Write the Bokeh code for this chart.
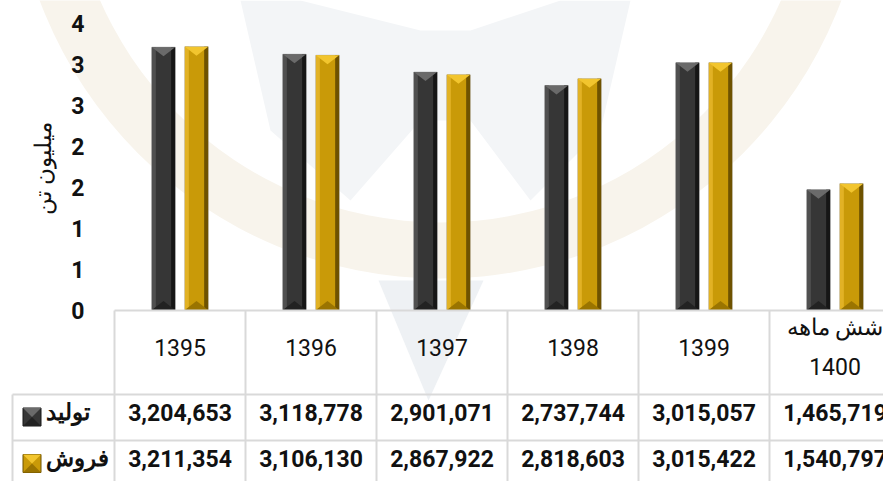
import numpy as np
from bokeh.plotting import figure
from bokeh.models import Range1d, FixedTicker
from bokeh.embed import file_html
from bokeh.resources import INLINE
from bokeh.core.properties import value

# ---------------- data ----------------
categories = ["1395", "1396", "1397", "1398", "1399", "شش ماهه\n1400"]
production = [3204653, 3118778, 2901071, 2737744, 3015057, 1465719]
sales = [3211354, 3106130, 2867922, 2818603, 3015422, 1540797]
series_names = ["تولید", "فروش"]
ytick_values = [0, 0.5, 1, 1.5, 2, 2.5, 3, 3.5]
ytick_labels = ["0", "1", "1", "2", "2", "3", "3", "4"]
y_axis_title = "میلیون تن"

# ---------------- layout constants (screen px) ----------------
W, H = 883, 481
COL = 131.0          # px per category column
X0 = 114.0           # screen x of first category column
Y0 = 309.5           # screen y of value 0
PXY = 82.0           # px per million tonnes
FONT = "Roboto"
n = len(categories)


def X(sx):
    return (sx - X0) / COL


def Y(sy):
    return (Y0 - sy) / PXY


p = figure(width=W, height=H, x_range=Range1d(X(0), X(W)), y_range=Range1d(Y(H), Y(0)),
           output_backend="svg", toolbar_location=None, x_axis_location=None,
           min_border_left=0, min_border_right=0, min_border_top=0, min_border_bottom=0)
p.grid.visible = False
p.outline_line_color = None
p.background_fill_color = "white"

# ---------------- faint watermark ----------------
p.annulus(x=[X(440)], y=[Y(-150)], inner_radius=372, outer_radius=428,
          inner_radius_units="screen", outer_radius_units="screen",
          fill_color="#f8f4ec", line_color=None)
p.patch(x=[X(s) for s in [240, 300, 420, 470, 560, 630, 600, 530, 470, 420, 350, 270]],
        y=[Y(s) for s in [0, 0, 30, 30, 0, 0, 130, 200, 120, 120, 200, 130]],
        fill_color="#f3f5f7", line_color=None)
p.patch(x=[X(378), X(483), X(428)], y=[Y(280), Y(280), Y(400)],
        fill_color="#eef1f4", line_color=None)

# ---------------- bars ----------------
series = [np.array(production) / 1e6, np.array(sales) / 1e6]
offsets = [-0.126, 0.126]
bar_w = 0.178
edge = 4.0 / COL
tri_h = 9.0 / PXY
styles = [
    dict(body="#363636", light="#505050", dark="#161616", top="#6a6a6a", bottom="#222222"),
    dict(body="#C99A08", light="#E2B225", dark="#6E5200", top="#F2C52E", bottom="#9A7400"),
]
cx = np.arange(n) + 0.5
for vals, off, st in zip(series, offsets, styles):
    xc = cx + off
    p.vbar(x=xc, top=vals, bottom=0, width=bar_w, fill_color=st["body"], line_color="#9a9a9a",
           line_width=0.6)
    p.vbar(x=xc - bar_w / 2 + edge / 2, top=vals, bottom=0, width=edge, fill_color=st["light"], line_color=None)
    p.vbar(x=xc + bar_w / 2 - edge / 2, top=vals, bottom=0, width=edge, fill_color=st["dark"], line_color=None)
    xs_tri = [[x - bar_w / 2, x + bar_w / 2, x] for x in xc]
    p.patches(xs_tri, [[v, v, v - tri_h] for v in vals], fill_color=st["top"], line_color=None)
    p.patches(xs_tri, [[0, 0, tri_h] for v in vals], fill_color=st["bottom"], line_color=None)

# ---------------- y axis (drawn at the left edge of the first column) ----------------
ax = p.yaxis[0]
ax.fixed_location = 0
ax.ticker = FixedTicker(ticks=ytick_values)
ax.major_label_overrides = {v: l for v, l in zip(ytick_values, ytick_labels)}
ax.axis_line_color = None
ax.major_tick_line_color = None
ax.minor_tick_line_color = None
ax.major_label_standoff = 24
ax.major_label_text_font = FONT
ax.major_label_text_font_size = "23px"
ax.major_label_text_font_style = "bold"
ax.major_label_text_color = "#111111"

p.text(x=[X(43)], y=[Y(168)], text=[y_axis_title], angle=np.pi / 2, text_font=value(FONT),
       text_font_size="23px", text_align="center", text_baseline="middle", text_color="#111111")

# ---------------- data table ----------------
grid_col = "#d9d9d9"
row_y = [310, 394, 440, 486]
left_edge = X(12)
t_top = [X0, 12, 12, 12]
p.segment(x0=[X(s) for s in t_top], y0=[Y(s) for s in row_y], x1=[n] * 4, y1=[Y(s) for s in row_y],
          line_color=grid_col, line_width=2)
vx = [left_edge] + list(range(n + 1))
vy0 = [Y(row_y[1])] + [Y(row_y[0])] * (n + 1)
p.segment(x0=vx, y0=vy0, x1=vx, y1=[Y(H + 5)] * len(vx), line_color=grid_col, line_width=2)

p.text(x=cx, y=[Y(347)] * n, text=categories, text_font=value(FONT), text_font_size="23px",
       text_align="center", text_baseline="middle", text_color="#111111", text_line_height=1.5)

row_centers = [412, 458]
for vals, yc in zip([production, sales], row_centers):
    p.text(x=cx, y=[Y(yc)] * n, text=["{:,}".format(v) for v in vals], text_font=value(FONT),
           text_font_size="23px", text_font_style="bold", text_align="center",
           text_baseline="middle", text_color="#111111")

key_y = [416.5, 463]
for st, ky, name, yc in zip(styles, key_y, series_names, row_centers):
    p.rect(x=[X(31.5)], y=[Y(ky)], width=18, height=18, width_units="screen", height_units="screen",
           fill_color=st["body"], line_color=st["dark"], line_width=1)
    p.patch(x=[X(22.5), X(40.5), X(31.5)], y=[Y(ky + 9), Y(ky + 9), Y(ky)], fill_color=st["bottom"],
            line_color=None)
    p.patch(x=[X(22.5), X(40.5), X(31.5)], y=[Y(ky - 9), Y(ky - 9), Y(ky)], fill_color=st["top"],
            line_color=None)
    p.text(x=[X(45)], y=[Y(yc)], text=[name], text_font=value(FONT), text_font_size="23px",
           text_font_style="bold", text_align="left", text_baseline="middle", text_color="#111111")

open("out.html", "w").write(file_html(p, INLINE))
